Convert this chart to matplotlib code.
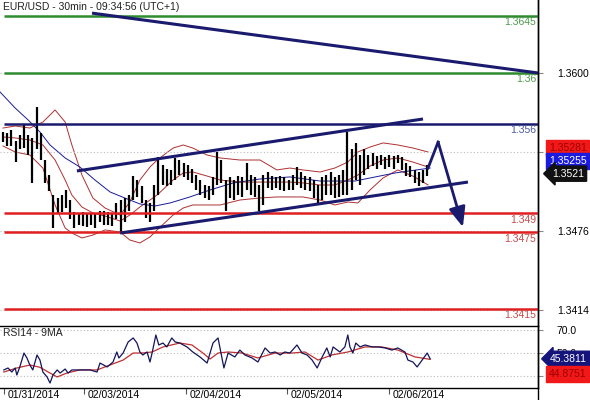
import numpy as np
import matplotlib.pyplot as plt
from matplotlib.lines import Line2D

plt.rcParams['font.family'] = ['Liberation Sans', 'DejaVu Sans']

# EUR/USD 30min, thinned to one bar per hour (x = hours since the 01/31 start)
highs = [1.3554, 1.3553, 1.3555, 1.3547, 1.3551, 1.3559, 1.3551, 1.3549, 1.3573, 1.3553,
         1.3532, 1.3520, 1.3504, 1.3502, 1.3504, 1.3508, 1.3500, 1.3491, 1.3490, 1.3491,
         1.3489, 1.3490, 1.3489, 1.3492, 1.3492, 1.3491, 1.3490, 1.3498, 1.3500, 1.3502,
         1.3504, 1.3519, 1.3516, 1.3511, 1.3500, 1.3498, 1.3512, 1.3534, 1.3528, 1.3525,
         1.3524, 1.3533, 1.3532, 1.3529, 1.3528, 1.3525, 1.3520, 1.3516, 1.3512, 1.3511,
         1.3518, 1.3538, 1.3532, 1.3516, 1.3518, 1.3516, 1.3519, 1.3518, 1.3529, 1.3520,
         1.3518, 1.3512, 1.3520, 1.3522, 1.3519, 1.3518, 1.3519, 1.3518, 1.3516, 1.3520,
         1.3526, 1.3522, 1.3519, 1.3518, 1.3516, 1.3512, 1.3518, 1.3520, 1.3522, 1.3518,
         1.3520, 1.3524, 1.3554, 1.3540, 1.3545, 1.3536, 1.3540, 1.3536, 1.3537, 1.3535,
         1.3536, 1.3534, 1.3536, 1.3535, 1.3536, 1.3534, 1.3529, 1.3527, 1.3524, 1.3522,
         1.3524, 1.3528]
lows = [1.3546, 1.3543, 1.3543, 1.3530, 1.3540, 1.3541, 1.3536, 1.3514, 1.3540, 1.3532,
        1.3514, 1.3507, 1.3478, 1.3489, 1.3491, 1.3494, 1.3485, 1.3478, 1.3481, 1.3480,
        1.3479, 1.3481, 1.3478, 1.3483, 1.3481, 1.3481, 1.3480, 1.3485, 1.3475, 1.3483,
        1.3492, 1.3500, 1.3503, 1.3498, 1.3486, 1.3483, 1.3492, 1.3504, 1.3512, 1.3511,
        1.3512, 1.3516, 1.3520, 1.3518, 1.3516, 1.3514, 1.3508, 1.3504, 1.3502, 1.3500,
        1.3504, 1.3512, 1.3514, 1.3492, 1.3502, 1.3500, 1.3504, 1.3503, 1.3508, 1.3504,
        1.3503, 1.3492, 1.3496, 1.3510, 1.3508, 1.3510, 1.3508, 1.3507, 1.3508, 1.3508,
        1.3512, 1.3510, 1.3508, 1.3507, 1.3502, 1.3498, 1.3500, 1.3504, 1.3504, 1.3502,
        1.3503, 1.3504, 1.3504, 1.3508, 1.3516, 1.3512, 1.3520, 1.3525, 1.3527, 1.3525,
        1.3528, 1.3525, 1.3526, 1.3525, 1.3529, 1.3524, 1.3519, 1.3518, 1.3514, 1.3511,
        1.3514, 1.3519]

# bollinger bands
band_x = [0.0, 2.9, 6.4, 9.5, 12.4, 14.8, 16.4, 18.8, 21.4, 24.3, 27.9, 30.2, 32.6, 35.0,
          36.7, 40.5, 42.9, 45.2, 48.6, 51.7, 56.4, 61.2, 65.2, 68.3, 71.4, 75.5, 79.0,
          82.1, 84.5, 87.4, 90.5, 94.0, 97.6, 101.2]
bb_upper = [1.35568, 1.35584, 1.35568, 1.35615, 1.35710, 1.35615, 1.35435, 1.35199, 1.35019,
            1.34940, 1.34885, 1.34987, 1.35160, 1.35262, 1.35317, 1.35411, 1.35435, 1.35411,
            1.35356, 1.35333, 1.35317, 1.35317, 1.35239, 1.35254, 1.35239, 1.35223, 1.35254,
            1.35301, 1.35380, 1.35419, 1.35451, 1.35435, 1.35411, 1.35380]
bb_mid = [1.35498, 1.35490, 1.35474, 1.35435, 1.35317, 1.35160, 1.35042, 1.34948, 1.34901,
          1.34877, 1.34838, 1.34885, 1.34948, 1.35003, 1.35042, 1.35160, 1.35215, 1.35223,
          1.35191, 1.35160, 1.35144, 1.35144, 1.35144, 1.35144, 1.35137, 1.35121, 1.35121,
          1.35160, 1.35199, 1.35270, 1.35317, 1.35333, 1.35301, 1.35262]
bb_lower = [1.35427, 1.35380, 1.35356, 1.35254, 1.34964, 1.34783, 1.34744, 1.34705, 1.34728,
            1.34768, 1.34752, 1.34689, 1.34666, 1.34713, 1.34768, 1.34885, 1.34940, 1.34964,
            1.34964, 1.34964, 1.35003, 1.35019, 1.35027, 1.35027, 1.35027, 1.35003, 1.34964,
            1.34987, 1.34980, 1.35082, 1.35176, 1.35239, 1.35191, 1.35121]

# slow moving average (thin blue)
ma_x = [-0.7, 2.9, 6.0, 8.8, 11.2, 14.8, 18.3, 21.9, 25.5, 29.0, 32.6, 36.2, 39.8, 44.5,
        49.3, 54.8, 61.2, 68.3, 75.5, 83.8, 93.3, 101.7]
ma_vals = [1.35851, 1.35725, 1.35631, 1.35537, 1.35435, 1.35333, 1.35262, 1.35160, 1.35066,
           1.35019, 1.34972, 1.34956, 1.34980, 1.35027, 1.35082, 1.35137, 1.35168, 1.35184,
           1.35152, 1.35152, 1.35215, 1.35254]

# support / resistance levels
levels = [1.3645, 1.3600, 1.3560, 1.3490, 1.3475, 1.3415]
level_labels = ['1.3645', '1.36', '1.356', '1.349', '1.3475', '1.3415']

# trend lines and projection
down_x, down_y = [21.2, 127.4], [1.3647, 1.3600]
chan_up_x, chan_up_y = [17.6, 100.0], [1.35231, 1.35639]
chan_lo_x, chan_lo_y = [27.9, 110.7], [1.34744, 1.35144]
proj_x = [101.2, 103.6, 109.5]
proj_y = [1.35254, 1.35458, 1.34791]

# RSI14 and its 9MA
rsi_x = [0.2, 1.2, 2.1, 2.9, 3.3, 4.0, 5.0, 5.7, 6.4, 7.1,
         8.1, 8.8, 9.5, 10.5, 11.2, 11.9, 12.9, 13.6, 14.8, 15.5,
         16.4, 18.3, 20.7, 22.4, 23.1, 24.8, 26.2, 27.1, 27.6, 28.6,
         29.8, 31.0, 31.9, 32.6, 33.3, 34.3, 35.0, 35.5, 36.4, 37.1,
         38.1, 39.0, 40.2, 41.0, 42.1, 43.8, 45.2, 46.9, 48.6, 50.0,
         51.2, 52.6, 53.6, 55.2, 56.4, 57.6, 59.3, 60.7, 62.4, 63.6,
         64.8, 66.0, 67.1, 68.3, 70.0, 71.2, 72.4, 73.6, 74.8, 76.0,
         77.1, 77.9, 78.6, 80.2, 81.4, 82.1, 82.6, 83.3, 84.0, 85.0,
         86.2, 87.9, 89.3, 91.0, 92.6, 94.0, 95.7, 96.4, 97.6, 98.6,
         99.8, 101.0, 101.7]
rsi_vals = [35.7, 37.4, 33.9, 37.4, 31.3, 38.3, 50.4, 46.1, 40.0, 35.7,
            48.7, 44.3, 33.9, 29.6, 24.3, 31.3, 35.7, 33.0, 36.5, 33.0,
            35.7, 35.7, 35.7, 33.9, 41.7, 38.3, 42.6, 51.3, 46.1, 50.4,
            60.0, 63.5, 59.1, 51.3, 48.7, 51.3, 42.6, 50.4, 66.1, 57.4,
            59.1, 55.7, 63.5, 60.0, 59.1, 55.7, 51.3, 47.0, 41.7, 59.1,
            63.5, 37.4, 50.4, 47.0, 53.0, 48.7, 46.1, 42.6, 54.8, 50.4,
            51.3, 48.7, 51.3, 50.4, 57.4, 50.4, 48.7, 44.3, 37.4, 47.0,
            54.8, 47.0, 55.7, 51.3, 55.7, 66.1, 55.7, 50.4, 59.1, 55.7,
            57.4, 55.7, 55.7, 54.8, 53.0, 54.8, 51.3, 44.3, 42.6, 38.3,
            44.3, 50.4, 45.4]
rsi_ma_x = [0.2, 3.3, 6.4, 8.8, 11.2, 12.9, 15.2, 18.3, 22.4, 25.5, 28.6, 31.0, 33.1, 35.5,
            38.1, 42.1, 45.0, 47.6, 49.3, 51.2, 53.6, 56.9, 60.7, 64.8, 68.8, 71.9, 75.0,
            78.3, 82.1, 86.2, 90.2, 94.0, 98.1, 101.7]
rsi_ma_vals = [33.9, 37.4, 40.0, 38.0, 33.0, 29.6, 33.0, 35.7, 35.7, 40.0, 44.3, 50.4, 50.4,
               51.3, 55.7, 59.1, 57.4, 50.4, 45.2, 50.4, 51.3, 50.4, 46.1, 50.4, 50.4, 51.3,
               44.3, 48.7, 51.3, 55.7, 55.7, 53.0, 47.0, 44.9]

dates_x = [0.2, 19.3, 43.6, 67.6, 91.9]
date_labels = ['01/31/2014', '02/03/2014', '02/04/2014', '02/05/2014', '02/06/2014']

price_ticks = [1.3414, 1.3476, 1.3538, 1.3600]
price_tick_labels = ['1.3414', '1.3476', '', '1.3600']

green = '#2e8b2e'
navy = '#1a1a6e'
red = '#e02020'
level_colors = [green, green, navy, red, red, red]
label_colors = ['#4a9a4a', '#4a9a4a', '#4a5aa0', '#c84a4a', '#c84a4a', '#c84a4a']

W, H = 590, 400
fig = plt.figure(figsize=(W / 100, H / 100), dpi=100)
ax = fig.add_axes([0, 1 - 326 / H, 538 / W, 326 / H])
ax_rsi = fig.add_axes([0, 1 - 388 / H, 538 / W, 62 / H], sharex=ax)

xmax = 127.38
ax.set_xlim(-0.71, xmax)
ax.set_ylim(1.34014, 1.36573)

# ---- price panel
ax.plot(band_x, bb_upper, color='#b03030', lw=0.7, zorder=1)
ax.plot(band_x, bb_mid, color='#b03030', lw=0.7, zorder=1)
ax.plot(band_x, bb_lower, color='#b03030', lw=0.7, zorder=1)
ax.plot(ma_x, ma_vals, color='#1a1a9a', lw=0.7, zorder=1)

bar_x = np.arange(len(highs))
ax.vlines(bar_x, lows, highs, color='black', lw=1.6, zorder=2)

ax.hlines(levels, 0.2, xmax, colors=level_colors, lw=1.8, zorder=3)
for lv, lab, c in zip(levels, level_labels, label_colors):
    ax.annotate(lab, xy=(1, lv), xycoords=ax.get_yaxis_transform(),
                xytext=(-2, -6.5), textcoords='offset pixels',
                ha='right', va='center', fontsize=7.5, color=c)

for xs, ys in [(down_x, down_y), (chan_up_x, chan_up_y), (chan_lo_x, chan_lo_y)]:
    ax.plot(xs, ys, color=navy, lw=2.2, solid_capstyle='butt', zorder=4)
ax.plot(proj_x[:2], proj_y[:2], color=navy, lw=2.0, zorder=4)
ax.annotate('', xy=(proj_x[2], proj_y[2]), xytext=(proj_x[1], proj_y[1]),
            arrowprops=dict(arrowstyle='-|>,head_length=1.2,head_width=0.5',
                            color=navy, lw=2.0, shrinkA=0, shrinkB=0), zorder=4)

ax.yaxis.tick_right()
ax.set_yticks(price_ticks)
ax.set_yticklabels(price_tick_labels)
ax.tick_params(axis='y', length=3.5, color='#888888', labelsize=7.5, pad=10)
ax.tick_params(axis='x', bottom=False, labelbottom=False)
ax.yaxis.grid(True, color='#bbbbbb', ls=(0, (1, 2)), lw=0.8)
for s in ['left', 'top', 'bottom']:
    ax.spines[s].set_visible(False)
ax.spines['right'].set_linewidth(1.0)


def value_tag(axis, yv, text, face, fg, style, dx):
    axis.annotate(text, xy=(1, yv), xycoords=axis.get_yaxis_transform(),
                  xytext=(dx, 0), textcoords='offset pixels', ha='left', va='center',
                  fontsize=7.5, color=fg, zorder=6, annotation_clip=False,
                  bbox=dict(boxstyle=style, fc=face, ec=face))


value_tag(ax, 1.35411, '1.35281', '#f01818', '#a00000', 'square,pad=0.25', 11)
value_tag(ax, 1.35309, '1.35255', '#1a1ae0', 'white', 'square,pad=0.25', 11)
value_tag(ax, 1.3521, '1.3521', '#111111', 'white', 'larrow,pad=0.25', 14)

# ---- RSI panel
ax_rsi.plot(rsi_ma_x, rsi_ma_vals, color='#c03030', lw=0.9)
ax_rsi.plot(rsi_x, rsi_vals, color='#14145a', lw=0.9)
ax_rsi.set_ylim(20.0, 73.9)
ax_rsi.yaxis.tick_right()
ax_rsi.set_yticks([30, 50, 70])
ax_rsi.set_yticklabels(['', '50.0', '70.0'])
ax_rsi.tick_params(axis='y', length=3.5, color='#888888', labelsize=7.5, pad=10)
ax_rsi.yaxis.grid(True, color='#bbbbbb', ls=(0, (1, 2)), lw=0.8)
ax_rsi.spines['left'].set_visible(False)
for s in ['top', 'bottom', 'right']:
    ax_rsi.spines[s].set_linewidth(1.0)

ax_rsi.set_xticks(dates_x)
ax_rsi.set_xticklabels([''] * len(dates_x))
ax_rsi.tick_params(axis='x', direction='out', length=4, color='#555555')
for xv, lab in zip(dates_x, date_labels):
    ax_rsi.annotate(lab, xy=(xv, 0), xycoords=ax_rsi.get_xaxis_transform(),
                    xytext=(4, -2), textcoords='offset pixels',
                    ha='left', va='top', fontsize=7.5, annotation_clip=False)

value_tag(ax_rsi, 45.38, '45.3811', '#14147a', 'white', 'larrow,pad=0.25', 12)
value_tag(ax_rsi, 32.2, '44.8751', '#f01818', '#a00000', 'square,pad=0.25', 11)

fig.text(3 / W, 1 - 7 / H, 'EUR/USD - 30min - 09:34:56 (UTC+1)', ha='left', va='center',
         fontsize=7.5, color='#222222')
fig.text(3 / W, 1 - 333.5 / H, 'RSI14 - 9MA', ha='left', va='center', fontsize=7.5,
         color='#222222')

fig.add_artist(Line2D([538 / W, 538 / W], [0, 1], color='black', lw=1.0))

fig.savefig('out.png', dpi=100)
